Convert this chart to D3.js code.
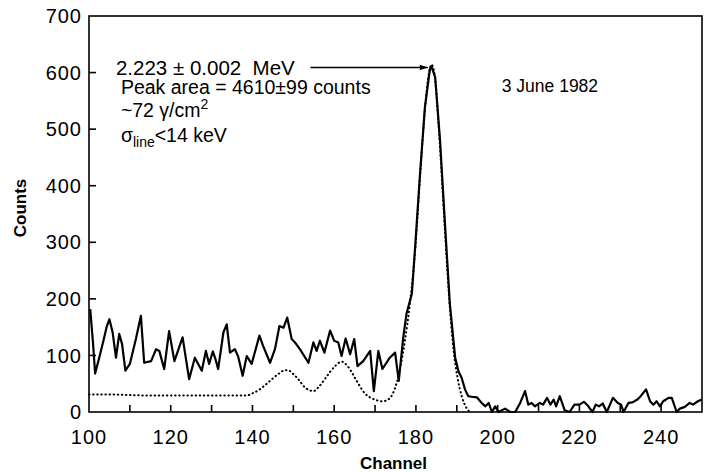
<!DOCTYPE html>
<html>
<head>
<meta charset="utf-8">
<script src="https://cdn.jsdelivr.net/npm/d3@7"></script>
<style>
  html, body { margin: 0; padding: 0; background: #fff; }
  svg { display: block; }
  text { font-family: "Liberation Sans", Arial, sans-serif; fill: #000; }
</style>
</head>
<body>
<div id="chart"></div>
<script>
const dataChannels = [
  100.3, 101.0, 101.5, 102.5, 103.5, 104.3, 105.0, 105.8, 106.6, 107.4,
  108.1, 108.9, 110.0, 111.5, 112.7, 113.5, 115.2, 116.4, 117.2, 118.4,
  119.6, 120.9, 122.9, 124.5, 125.9, 127.6, 128.6, 129.4, 130.3, 131.0,
  131.6, 132.9, 133.7, 134.5, 135.7, 136.5, 137.6, 138.6, 139.8, 141.7,
  142.6, 144.3, 145.5, 146.6, 147.6, 148.5, 149.6, 150.4, 151.6, 153.7,
  154.9, 155.7, 156.5, 157.6, 159.0, 160.0, 161.0, 161.8, 162.8, 163.9,
  164.9, 165.7, 167.1, 168.8, 169.7, 170.8, 171.8, 173.6, 174.9, 175.8,
  176.9, 177.7, 179.0, 179.8, 181.0, 182.2, 183.4, 183.8, 184.7, 185.9,
  187.1, 188.3, 189.6, 190.4, 191.2, 192.0, 192.8, 193.6, 194.9, 196.1,
  197.0, 197.8, 198.6, 199.4, 200.2, 201.8, 203.1, 204.3, 205.5, 206.7,
  207.5, 208.3, 209.1, 210.3, 211.1, 212.1, 212.9, 213.7, 214.3, 215.2,
  216.4, 217.6, 218.8, 220.0, 221.1, 222.1, 223.2, 224.0, 224.8, 225.7,
  226.7, 228.2, 229.4, 230.2, 230.8, 232.0, 233.0, 234.2, 235.0, 236.3,
  237.3, 238.1, 238.9, 239.7, 240.5, 241.8, 242.6, 243.8, 244.6, 245.8,
  247.0, 247.8, 249.0, 250.0
];
const dataCounts = [
  182, 120, 68, 96, 125, 150, 164, 140, 96, 138,
  120, 73, 85, 130, 170, 87, 90, 111, 108, 76,
  143, 90, 132, 58, 96, 73, 108, 85, 107, 92,
  76, 141, 155, 105, 111, 98, 64, 99, 85, 135,
  117, 87, 111, 152, 149, 167, 129, 123, 111, 87,
  123, 108, 126, 105, 144, 126, 123, 99, 130, 102,
  129, 81, 90, 108, 37, 108, 76, 96, 105, 55,
  132, 174, 209, 291, 421, 539, 605, 611, 592, 480,
  333, 191, 96, 72, 60, 40, 28, 27, 26, 16,
  10, 16, 0, 10, 0, 6, 0, 0, 16, 37,
  13, 16, 10, 16, 13, 25, 13, 22, 10, 28,
  3, 0, 13, 13, 18, 11, 0, 13, 10, 15,
  0, 25, 16, 13, 0, 16, 17, 22, 28, 40,
  19, 13, 19, 10, 19, 25, 25, 0, 6, 9,
  16, 13, 19, 22
];

// ---- Fitted curve (dotted) ----
const fitChannels = [
  100, 105, 110, 115, 120, 125, 130, 135, 138.5, 140,
  141.8, 143, 144.3, 146.3, 148, 149, 150, 151.2, 152.9, 154.9,
  156.3, 157.7, 159, 160.2, 161.8, 163.4, 165.5, 167.5, 169.9, 171.9,
  173.2, 174.3, 175.3, 176.2, 177.3, 178.5, 179.8, 181, 182.2, 183.2,
  183.8, 184.5, 185.7, 186.9, 188.1, 189.2, 190.2, 191.2, 192.3, 193.2
];
const fitCounts = [
  31, 31, 30, 29, 29, 29, 29, 29, 29, 33,
  40, 47, 55, 67, 74, 73, 67, 58, 43, 37,
  45, 58, 71, 81, 89, 80, 55, 33, 22, 19,
  22, 32, 52, 80, 126, 190, 285, 415, 535, 600,
  614, 600, 490, 345, 205, 110, 60, 28, 8, 0
];

// ---- Axis ticks ----
const xTickValues = [110, 120, 130, 140, 150, 160, 170, 180, 190, 200, 210, 220, 230, 240];
const xTickLabels = [100, 120, 140, 160, 180, 200, 220, 240];
const yTickValues = [0, 100, 200, 300, 400, 500, 600, 700];

// ---- Layout ----
const W = 713, H = 473;
const margin = { top: 16, right: 11, bottom: 61, left: 89 };
const width = W - margin.left - margin.right;
const height = H - margin.top - margin.bottom;

const svg = d3.select("#chart").append("svg")
  .attr("width", W).attr("height", H);
const g = svg.append("g")
  .attr("transform", `translate(${margin.left},${margin.top})`);

// ---- Scales ----
const x = d3.scaleLinear().domain([100, 250]).range([0, width]);
const y = d3.scaleLinear().domain([0, 700]).range([height, 0]);

// ---- Frame ----
g.append("rect")
  .attr("x", 0).attr("y", 0)
  .attr("width", width).attr("height", height)
  .attr("fill", "none")
  .attr("stroke", "#000")
  .attr("stroke-width", 1.6);

// ---- Ticks (inward) ----
g.selectAll(".xtick")
  .data(xTickValues)
  .join("line")
  .attr("x1", d => x(d)).attr("x2", d => x(d))
  .attr("y1", height).attr("y2", height - 7)
  .attr("stroke", "#000").attr("stroke-width", 1.6);

g.selectAll(".ytick")
  .data(yTickValues.slice(1, -1))
  .join("line")
  .attr("x1", 0).attr("x2", 7)
  .attr("y1", d => y(d)).attr("y2", d => y(d))
  .attr("stroke", "#000").attr("stroke-width", 1.6);

// ---- Tick labels ----
g.selectAll(".xlab")
  .data(xTickLabels)
  .join("text")
  .attr("x", d => x(d))
  .attr("y", height + 32)
  .attr("text-anchor", "middle")
  .style("font-size", "20px")
  .style("letter-spacing", "1px")
  .text(d => d);

g.selectAll(".ylab")
  .data(yTickValues)
  .join("text")
  .attr("x", -7)
  .attr("y", d => y(d))
  .attr("dy", "0.36em")
  .attr("text-anchor", "end")
  .style("font-size", "20px")
  .style("letter-spacing", "1px")
  .text(d => d);

// ---- Axis titles ----
g.append("text")
  .attr("x", width / 2 - 2)
  .attr("y", height + 57)
  .attr("text-anchor", "middle")
  .style("font-size", "17px")
  .style("font-weight", "bold")
  .text("Channel");

g.append("text")
  .attr("transform", `translate(${-margin.left + 26},${height / 2 - 6}) rotate(-90)`)
  .attr("text-anchor", "middle")
  .style("font-size", "17px")
  .style("font-weight", "bold")
  .text("Counts");

// ---- Fit (dotted) ----
const fit = fitChannels.map((c, i) => ({ ch: c, v: fitCounts[i] }));
g.append("path")
  .datum(fit)
  .attr("fill", "none")
  .attr("stroke", "#000")
  .attr("stroke-width", 2)
  .attr("stroke-linecap", "round")
  .attr("stroke-dasharray", "0.5,3.6")
  .attr("d", d3.line().x(d => x(d.ch)).y(d => y(d.v)).curve(d3.curveMonotoneX));

// ---- Data (solid) ----
const spectrum = dataChannels.map((c, i) => ({ ch: c, v: dataCounts[i] }));
g.append("path")
  .datum(spectrum)
  .attr("fill", "none")
  .attr("stroke", "#000")
  .attr("stroke-width", 2.2)
  .attr("stroke-linejoin", "round")
  .attr("d", d3.line().x(d => x(d.ch)).y(d => y(d.v)));

// ---- Annotations ----
svg.append("defs").append("marker")
  .attr("id", "arrow")
  .attr("viewBox", "0 0 10 10")
  .attr("refX", 10).attr("refY", 5)
  .attr("markerWidth", 24).attr("markerHeight", 8)
  .attr("markerUnits", "userSpaceOnUse")
  .attr("orient", "auto")
  .append("path")
  .attr("d", "M0,1.5 L10,5 L0,8.5 Z")
  .attr("fill", "#000");

g.append("line")
  .attr("x1", x(154.2)).attr("x2", x(182.9))
  .attr("y1", y(609)).attr("y2", y(609))
  .attr("stroke", "#000").attr("stroke-width", 1.3)
  .attr("marker-end", "url(#arrow)");

g.append("text")
  .attr("x", x(106.6)).attr("y", y(596))
  .style("font-size", "20.5px")
  .text("2.223 \u00b1 0.002\u00a0\u00a0MeV");

g.append("text")
  .attr("x", x(107.8)).attr("y", y(563))
  .style("font-size", "19.5px")
  .text("Peak area = 4610\u00b199 counts");

const t3 = g.append("text")
  .attr("x", x(107.8)).attr("y", y(522))
  .style("font-size", "19.5px");
t3.append("tspan").text("~72 \u03b3/cm");
t3.append("tspan").attr("dy", -8).style("font-size", "14px").text("2");

const t4 = g.append("text")
  .attr("x", x(107.8)).attr("y", y(478))
  .style("font-size", "19.5px");
t4.append("tspan").text("\u03c3");
t4.append("tspan").attr("dy", 5).style("font-size", "14px").text("line");
t4.append("tspan").attr("dy", -5).text("<14 keV");

g.append("text")
  .attr("x", x(201)).attr("y", y(566))
  .style("font-size", "17.5px")
  .text("3 June 1982");
</script>
</body>
</html>
